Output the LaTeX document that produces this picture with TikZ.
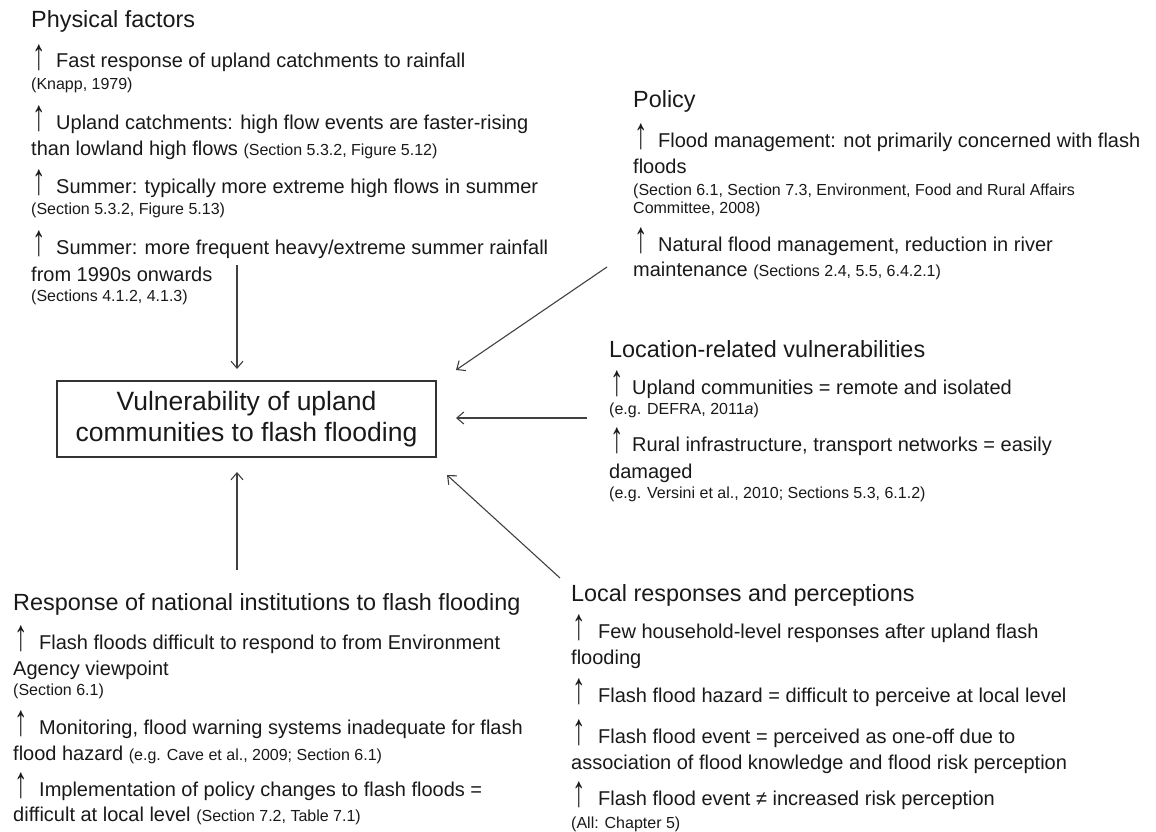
\documentclass[tikz,border=0pt]{standalone}
\usepackage{fontspec}
\usepackage{graphicx}
\setmainfont{Liberation Sans}
\usetikzlibrary{arrows.meta}
\newcommand{\sm}[1]{{\fontsize{16}{19}\selectfont #1}}
\newcommand{\ua}[1][25pt]{\makebox[#1][l]{\hspace{1pt}\smash{\raisebox{-1.5pt}{\scalebox{1.35}[2.2]{↑}}}}}
\begin{document}
\begin{tikzpicture}[x=1pt,y=-1pt,
  txt/.style={anchor=base west,inner sep=0pt,font=\fontsize{20}{24}\selectfont,text=black!90},
  hd/.style={anchor=base west,inner sep=0pt,font=\fontsize{23.4}{28}\selectfont,text=black!90},
  smalltxt/.style={anchor=base west,inner sep=0pt,font=\fontsize{16}{19}\selectfont,text=black!90},
  mainbox/.style={draw=black!80,line width=1.1pt,minimum width=379pt,minimum height=76pt,align=center,
    font=\fontsize{26.5}{31}\selectfont,text=black!90,inner sep=0pt},
  conn/.style={draw=black!75,line width=1.1pt,-{Straight Barb[length=7pt,width=12pt]}},
  ]
\useasboundingbox (0,0) rectangle (1156,832);

% central box
\node[mainbox] (box) at (246.5,419) {Vulnerability of upland\\communities to flash flooding};

% Physical factors
\node[hd] (p0) at (31,28) {Physical factors};
\node[txt] (p1) at (31,68) {\ua Fast response of upland catchments to rainfall};
\node[smalltxt] (p2) at (31,90) {(Knapp, 1979)};
\node[txt] (p3) at (31,129) {\ua Upland catchments: high flow events are faster-rising};
\node[txt] (p4) at (31,156) {than lowland high flows \sm{(Section 5.3.2, Figure 5.12)}};
\node[txt] (p5) at (31,193) {\ua Summer: typically more extreme high flows in summer};
\node[smalltxt] (p6) at (31,214) {(Section 5.3.2, Figure 5.13)};
\node[txt] (p7) at (31,254) {\ua Summer: more frequent heavy/extreme summer rainfall};
\node[txt] (p8) at (31,281) {from 1990s onwards};
\node[smalltxt] (p9) at (31,301) {(Sections 4.1.2, 4.1.3)};

% Policy
\node[hd] (q0) at (633,108) {Policy};
\node[txt] (q1) at (633,147) {\ua Flood management: not primarily concerned with flash};
\node[txt] (q2) at (633,173) {floods};
\node[smalltxt] (q3) at (633,195) {(Section 6.1, Section 7.3, Environment, Food and Rural Affairs};
\node[smalltxt] (q4) at (633,213) {Committee, 2008)};
\node[txt] (q5) at (633,251) {\ua Natural flood management, reduction in river};
\node[txt] (q6) at (633,276) {maintenance \sm{(Sections 2.4, 5.5, 6.4.2.1)}};

% Location-related vulnerabilities
\node[hd] (l0) at (609,357) {Location-related vulnerabilities};
\node[txt] (l1) at (609,394) {\ua[23pt]Upland communities = remote and isolated};
\node[smalltxt] (l2) at (609,414) {(e.g. DEFRA, 2011\textit{a})};
\node[txt] (l3) at (609,451) {\ua[23pt]Rural infrastructure, transport networks = easily};
\node[txt] (l4) at (609,478) {damaged};
\node[smalltxt] (l5) at (609,498) {(e.g. Versini et al., 2010; Sections 5.3, 6.1.2)};

% Local responses and perceptions
\node[hd] (r0) at (571,601) {Local responses and perceptions};
\node[txt] (r1) at (571,638) {\ua[27pt]Few household-level responses after upland flash};
\node[txt] (r2) at (571,664) {flooding};
\node[txt] (r3) at (571,702) {\ua[27pt]Flash flood hazard = difficult to perceive at local level};
\node[txt] (r4) at (571,743) {\ua[27pt]Flash flood event = perceived as one-off due to};
\node[txt] (r5) at (571,769) {association of flood knowledge and flood risk perception};
\node[txt] (r6) at (571,805) {\ua[27pt]Flash flood event ≠ increased risk perception};
\node[smalltxt] (r7) at (571,828) {(All: Chapter 5)};

% Response of national institutions
\node[hd] (n0) at (13,610) {Response of national institutions to flash flooding};
\node[txt] (n1) at (13,649) {\ua[26pt]Flash floods difficult to respond to from Environment};
\node[txt] (n2) at (13,675) {Agency viewpoint};
\node[smalltxt] (n3) at (13,695) {(Section 6.1)};
\node[txt] (n4) at (13,734) {\ua[26pt]Monitoring, flood warning systems inadequate for flash};
\node[txt] (n5) at (13,760) {flood hazard \sm{(e.g. Cave et al., 2009; Section 6.1)}};
\node[txt] (n6) at (13,796) {\ua[26pt]Implementation of policy changes to flash floods =};
\node[txt] (n7) at (13,821) {difficult at local level \sm{(Section 7.2, Table 7.1)}};

% connector ends
\coordinate (physTail) at (237,265);
\coordinate (physHead) at (237,369);
\coordinate (respTail) at (237,570);
\coordinate (respHead) at (237,472);
\coordinate (polTail) at (607,267);
\coordinate (polHead) at (456,370);
\coordinate (locTail) at (587,418);
\coordinate (locHead) at (456,418);
\coordinate (localTail) at (560,578);
\coordinate (localHead) at (447,475);

\draw[conn] (physTail) -- (physHead);
\draw[conn] (respTail) -- (respHead);
\draw[conn] (polTail) -- (polHead);
\draw[conn] (locTail) -- (locHead);
\draw[conn] (localTail) -- (localHead);
\end{tikzpicture}
\end{document}
